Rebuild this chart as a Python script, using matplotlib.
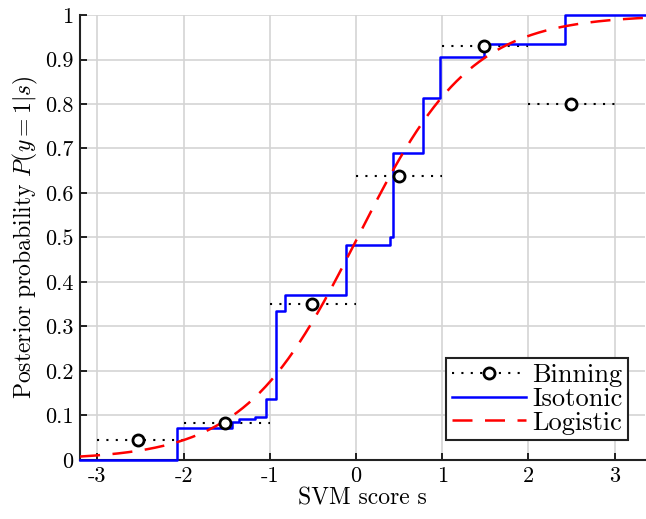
import numpy as np
import matplotlib.pyplot as plt

plt.rcParams['font.family'] = 'serif'
plt.rcParams['font.serif'] = ['cmr10', 'DejaVu Serif']
plt.rcParams['mathtext.fontset'] = 'cm'
plt.rcParams['axes.unicode_minus'] = False
plt.rcParams['axes.formatter.use_mathtext'] = True

# binning: bin edges and the fraction of positives per bin
bin_lo = [-3, -2, -1, 0, 1, 2]
bin_hi = [-2, -1, 0, 1, 2, 3]
bin_x = [-2.53, -1.52, -0.51, 0.50, 1.49, 2.49]
bin_p = [0.045, 0.082, 0.350, 0.638, 0.931, 0.800]

# isotonic regression step function (value holds from x[i] to x[i+1])
iso_x = [-3.2, -2.08, -1.44, -1.36, -1.17, -1.04, -0.93, -0.82, -0.12,
         0.40, 0.43, 0.78, 0.98, 1.49, 2.43, 3.35]
iso_p = [0.0, 0.072, 0.084, 0.092, 0.097, 0.136, 0.335, 0.370, 0.482,
         0.500, 0.690, 0.813, 0.905, 0.936, 1.0, 1.0]

# logistic (Platt) fit parameters
log_a = 1.52
log_b = -0.03

fig = plt.figure(figsize=(6.46, 5.19), dpi=100)
ax = fig.add_axes([0.124, 0.114, 0.874, 0.857])

for i in range(len(bin_x)):
    ax.plot([bin_lo[i], bin_hi[i]], [bin_p[i], bin_p[i]], color='black',
            linestyle=(0, (1, 3.5)), linewidth=1.5)
ax.plot(bin_x, bin_p, linestyle='none', marker='o', markersize=8,
        markerfacecolor='white', markeredgecolor='black', markeredgewidth=2,
        zorder=5)

ax.step(iso_x, iso_p, where='post', color='blue', linewidth=1.8,
        zorder=4, clip_on=False)

s = np.linspace(-3.2, 3.35, 400)
ax.plot(s, 1 / (1 + np.exp(-(log_a * s + log_b))), color='red',
        linestyle=(0, (8, 5)), linewidth=1.8, zorder=4)

# legend proxies
h1, = ax.plot([], [], color='black', linestyle=(0, (1, 3.5)), linewidth=1.5,
              marker='o', markersize=8, markerfacecolor='white',
              markeredgecolor='black', markeredgewidth=2, markevery=[1])
h2, = ax.plot([], [], color='blue', linewidth=1.8)
h3, = ax.plot([], [], color='red', linestyle=(0, (8, 5)), linewidth=1.8)
leg = ax.legend([h1, h2, h3], ['Binning', 'Isotonic', 'Logistic'],
                loc='lower right', bbox_to_anchor=(0.97, 0.045),
                fontsize=19, fancybox=False, framealpha=1,
                edgecolor='#222222', handlelength=2.8, handletextpad=0.25,
                borderpad=0.2, labelspacing=0.0, borderaxespad=0)
leg.get_frame().set_linewidth(1.5)
leg.set_zorder(10)

ax.set_xlim(-3.2, 3.35)
ax.set_ylim(0, 1)
xt = [-3, -2, -1, 0, 1, 2, 3]
yt = [0, 0.1, 0.2, 0.3, 0.4, 0.5, 0.6, 0.7, 0.8, 0.9, 1]
ax.set_xticks(xt)
ax.set_xticklabels([str(v) for v in xt])
ax.set_yticks(yt)
ax.set_yticklabels(['0', '0.1', '0.2', '0.3', '0.4', '0.5', '0.6', '0.7',
                    '0.8', '0.9', '1'])
ax.tick_params(direction='in', labelsize=16, length=5, width=1.2, pad=5)
ax.grid(True, color='#d4d4d4', linewidth=1.2)
ax.set_axisbelow(True)
for side in ['top', 'right']:
    ax.spines[side].set_visible(False)
for side in ['left', 'bottom']:
    ax.spines[side].set_linewidth(1.5)
    ax.spines[side].set_color('#222222')

ax.set_xlabel('SVM score s', fontsize=17, labelpad=1)
ax.set_ylabel('Posterior probability $P(y=1|s)$', fontsize=17, labelpad=3)

fig.savefig('out.png', dpi=100)
